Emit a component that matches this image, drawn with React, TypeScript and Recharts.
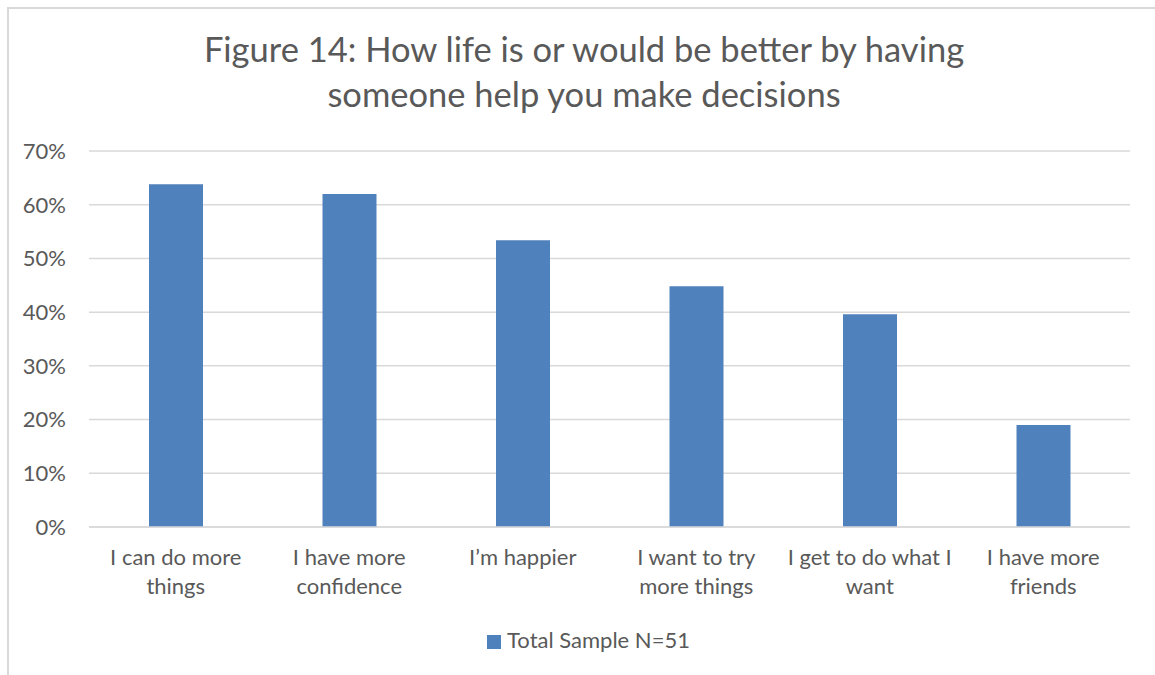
import { BarChart, Bar, XAxis, YAxis, CartesianGrid, Legend } from "recharts"

// Survey responses, share of respondents
const categories = [
  "I can do more\nthings",
  "I have more\nconfidence",
  "I\u2019m happier",
  "I want to try\nmore things",
  "I get to do what I\nwant",
  "I have more\nfriends",
]
const totalSample = [0.638, 0.62, 0.534, 0.448, 0.396, 0.19]
const percentTicks = [0, 0.1, 0.2, 0.3, 0.4, 0.5, 0.6, 0.7]

const seriesName = "Total Sample N=51"
const titleLines = ["Figure 14: How life is or would be better by having", "someone help you make decisions"]

const FONT = "Lato, 'Open Sans', sans-serif"
const TEXT = "#595959"
const GRID = "#d9d9d9"
const BAR = "#4f81bd"

const data = categories.map((name, i) => ({ name, value: totalSample[i] }))

function CategoryTick({ x, y, payload }: any) {
  const lines = String(payload.value).split("\n")
  return (
    <text x={x} y={y} textAnchor="middle" fill={TEXT} fontSize={22} fontFamily={FONT}>
      {lines.map((line, i) => (
        <tspan key={i} x={x} dy={i === 0 ? 30 : 29}>
          {line}
        </tspan>
      ))}
    </text>
  )
}

function LegendContent() {
  return (
    <div style={{ display: "flex", justifyContent: "center", alignItems: "center", height: 24 }}>
      <span style={{ width: 14, height: 14, background: BAR, marginRight: 6, marginTop: 3 }} />
      <span style={{ fontSize: 22, color: TEXT, fontFamily: FONT, lineHeight: "24px" }}>{seriesName}</span>
    </div>
  )
}

export default function App() {
  return (
    <div style={{ position: "absolute", left: 0, top: 0, width: 1155, height: 675, background: "#fff", overflow: "hidden" }}>
      {/* frame edges */}
      <div style={{ position: "absolute", left: 7, top: 7, width: 1148, height: 2, background: GRID }} />
      <div style={{ position: "absolute", left: 7, top: 7, width: 2, height: 668, background: GRID }} />

      <div
        style={{
          position: "absolute",
          top: 26,
          left: 0,
          width: 1168,
          textAlign: "center",
          fontFamily: FONT,
          fontSize: 34.5,
          lineHeight: "45px",
          color: TEXT,
        }}
      >
        {titleLines.map((t) => (
          <div key={t}>{t}</div>
        ))}
      </div>

      <BarChart
        width={1155}
        height={675}
        data={data}
        margin={{ top: 151, right: 25, left: 0, bottom: 0 }}
        style={{ position: "absolute", left: 0, top: 0 }}
      >
        <CartesianGrid vertical={false} stroke={GRID} strokeWidth={1.5} />
        <XAxis
          dataKey="name"
          height={148}
          axisLine={{ stroke: GRID, strokeWidth: 1.5 }}
          tickLine={false}
          interval={0}
          tick={<CategoryTick />}
        />
        <YAxis
          width={89}
          domain={[0, 0.7]}
          ticks={percentTicks}
          axisLine={false}
          tickLine={false}
          tickMargin={17}
          tickFormatter={(v: number) => `${Math.round(v * 100)}%`}
          tick={{ fill: TEXT, fontSize: 22, fontFamily: FONT }}
        />
        <Legend
          layout="horizontal"
          verticalAlign="middle"
          align="center"
          content={<LegendContent />}
          wrapperStyle={{ top: 628, left: 11, width: 1155 }}
        />
        <Bar dataKey="value" name={seriesName} fill={BAR} barSize={54} isAnimationActive={false} />
      </BarChart>
    </div>
  )
}
